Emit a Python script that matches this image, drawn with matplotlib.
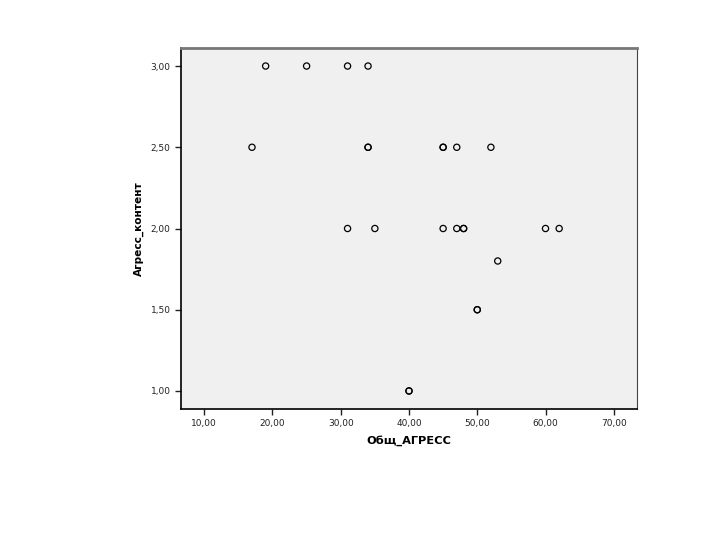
import matplotlib.pyplot as plt
from matplotlib.ticker import FuncFormatter

# Общ_АГРЕСС vs Агресс_контент (repeated values are kept, they overlap)
obshch_agress = [19, 25, 31, 34,
                 17, 34, 34, 45, 45, 47, 52,
                 31, 35, 45, 47, 48, 48, 60, 62,
                 53, 50, 50, 40, 40]
agress_kontent = [3.0, 3.0, 3.0, 3.0,
                  2.5, 2.5, 2.5, 2.5, 2.5, 2.5, 2.5,
                  2.0, 2.0, 2.0, 2.0, 2.0, 2.0, 2.0, 2.0,
                  1.8, 1.5, 1.5, 1.0, 1.0]

x_ticks = [10, 20, 30, 40, 50, 60, 70]
y_ticks = [1.0, 1.5, 2.0, 2.5, 3.0]

fig = plt.figure(figsize=(7.2, 5.4), dpi=100)
ax = fig.add_axes([0.2514, 0.2426, 0.6333, 0.6685])
ax.set_facecolor('#f0f0f0')

ax.scatter(obshch_agress, agress_kontent, s=20, facecolors='none',
           edgecolors='black', linewidths=0.9, zorder=3)

ax.set_xlim(6.6, 73.4)
ax.set_ylim(0.889, 3.111)
ax.set_xticks(x_ticks)
ax.set_yticks(y_ticks)
comma = FuncFormatter(lambda v, p: f'{v:.2f}'.replace('.', ','))
ax.xaxis.set_major_formatter(comma)
ax.yaxis.set_major_formatter(comma)
ax.tick_params(labelsize=6.5, length=4, width=1, colors='#222222')

ax.spines['left'].set_linewidth(1.2)
ax.spines['bottom'].set_linewidth(1.2)
ax.spines['top'].set_color('#777777')
ax.spines['top'].set_linewidth(2)
ax.spines['right'].set_color('#444444')

ax.set_xlabel('Общ_АГРЕСС', fontsize=8.2, fontweight='bold', labelpad=5)
ax.set_ylabel('Агресс_контент', fontsize=7.6, fontweight='bold', labelpad=5)

fig.savefig('out.png', dpi=100)
